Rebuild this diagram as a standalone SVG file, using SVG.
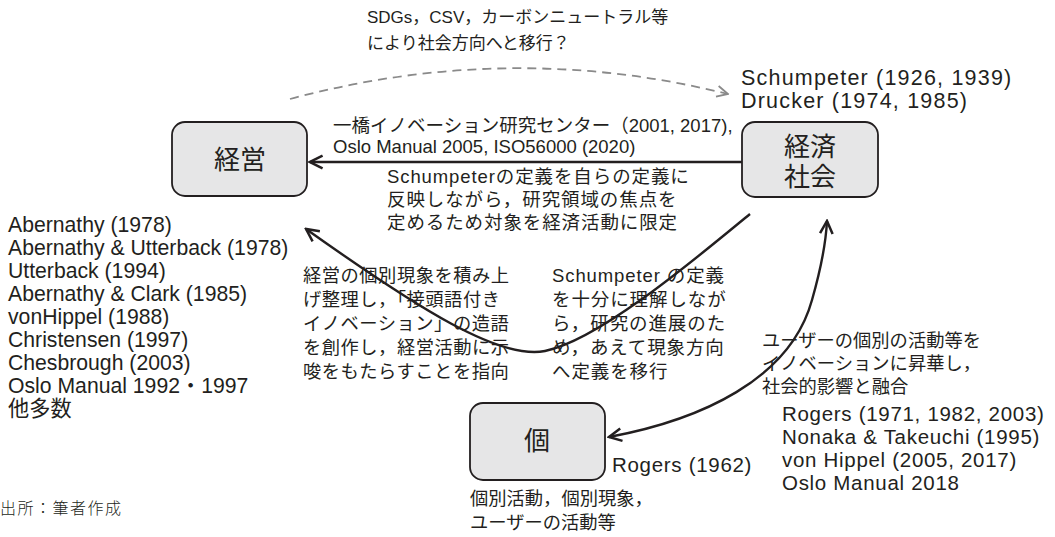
<svg xmlns="http://www.w3.org/2000/svg" width="1055" height="537" viewBox="0 0 1055 537">
<defs>
<style>
.t{font-family:"Liberation Sans","Noto Sans CJK JP",sans-serif;font-size:18.5px;fill:#231f20}
.top{font-family:"Liberation Sans","Noto Sans CJK JP",sans-serif;font-size:17px;fill:#231f20}
.l{font-family:"Liberation Sans","Noto Sans CJK JP",sans-serif;font-size:21.2px;fill:#231f20}
.r{font-family:"Liberation Sans","Noto Sans CJK JP",sans-serif;font-size:20.5px;letter-spacing:0.7px;fill:#231f20}
.s{font-family:"Liberation Sans","Noto Sans CJK JP",sans-serif;font-size:21.5px;letter-spacing:1.2px;fill:#231f20}
.j{font-family:"Noto Sans CJK JP","Liberation Sans",sans-serif;font-size:18.3px;letter-spacing:0.5px;fill:#231f20}
.jw{font-family:"Liberation Sans","Noto Sans CJK JP",sans-serif;font-size:18.5px;letter-spacing:0.9px;fill:#231f20}
.bx{fill:#e6e6e7;stroke:#231f20;stroke-width:1.8}
.bt{font-family:"Noto Sans CJK JP",sans-serif;font-size:26px;fill:#231f20;text-anchor:middle}
.c{fill:none;stroke:#231f20;stroke-width:2.4}
.d{fill:none;stroke:#8a8a8a;stroke-width:1.8;stroke-dasharray:9 6}
</style>
<marker id="ah" viewBox="0 0 14 14" refX="12.5" refY="7" markerUnits="userSpaceOnUse" markerWidth="16" markerHeight="16" orient="auto-start-reverse">
<path d="M1.5,1.5 L12.5,7 L1.5,12.5" fill="none" stroke="#231f20" stroke-width="2.2"/>
</marker>
<marker id="ahg" viewBox="0 0 14 14" refX="12.5" refY="7" markerUnits="userSpaceOnUse" markerWidth="14" markerHeight="14" orient="auto">
<path d="M1.5,1.5 L12.5,7 L1.5,12.5" fill="none" stroke="#8a8a8a" stroke-width="1.8"/>
</marker>
</defs>
<rect width="1055" height="537" fill="#ffffff"/>

<g id="connectors">
<path class="d" d="M290,99 Q510,40 728,94" marker-end="url(#ahg)"/>
<path class="c" d="M742,162 L310,162" marker-end="url(#ah)"/>
<path class="c" d="M750,214 C700,255 600,340 545,351 C500,360 420,310 306,229" marker-end="url(#ah)"/>
<path class="c" d="M609,437 C700,420 790,380 812,300 C822,265 826,240 827,221" marker-start="url(#ah)" marker-end="url(#ah)"/>
</g>

<g id="node-keiei">
<rect class="bx" x="172" y="122" width="135" height="74" rx="13"/>
<text class="bt" x="240" y="169">経営</text>
</g>
<g id="node-keizai">
<rect class="bx" x="742" y="122" width="136" height="75" rx="13"/>
<text class="bt" x="810" y="156">経済</text>
<text class="bt" x="810" y="186">社会</text>
</g>
<g id="node-ko">
<rect class="bx" x="470" y="403" width="135" height="77" rx="13"/>
<text class="bt" x="537" y="450">個</text>
</g>

<g id="labels">
<text class="top" x="367" y="23">SDGs，CSV，カーボンニュートラル等</text>
<text class="top" x="367" y="49">により社会方向へと移行？</text>
<text class="s" x="741" y="85">Schumpeter (1926, 1939)</text>
<text class="s" x="741" y="108">Drucker (1974, 1985)</text>
<text class="t" x="333" y="132">一橋イノベーション研究センター（2001, 2017),</text>
<text class="t" x="333" y="153">Oslo Manual 2005, ISO56000 (2020)</text>
<text class="jw" x="387" y="183">Schumpeterの定義を自らの定義に</text>
<text class="jw" x="387" y="206">反映しながら，研究領域の焦点を</text>
<text class="jw" x="387" y="229">定めるため対象を経済活動に限定</text>

<text class="l" x="8" y="232">Abernathy (1978)</text>
<text class="l" x="8" y="255">Abernathy &amp; Utterback (1978)</text>
<text class="l" x="8" y="278">Utterback (1994)</text>
<text class="l" x="8" y="301">Abernathy &amp; Clark (1985)</text>
<text class="l" x="8" y="324">vonHippel (1988)</text>
<text class="l" x="8" y="347">Christensen (1997)</text>
<text class="l" x="8" y="370">Chesbrough (2003)</text>
<text class="l" x="8" y="393">Oslo Manual 1992・1997</text>
<text class="l" x="8" y="416">他多数</text>

<text class="j" x="303" y="282">経営の個別現象を積み上</text>
<text class="j" x="303" y="306">げ整理し，「接頭語付き</text>
<text class="j" x="303" y="330">イノベーション」の造語</text>
<text class="j" x="303" y="354">を創作し，経営活動に示</text>
<text class="j" x="303" y="378">唆をもたらすことを指向</text>

<text class="jw" x="552" y="282">Schumpeter の定義</text>
<text class="jw" x="552" y="306">を十分に理解しなが</text>
<text class="jw" x="552" y="330">ら，研究の進展のた</text>
<text class="jw" x="552" y="354">め，あえて現象方向</text>
<text class="jw" x="552" y="378">へ定義を移行</text>

<text class="j" x="762" y="347" style="letter-spacing:0">ユーザーの個別の活動等を</text>
<text class="j" x="762" y="370" style="letter-spacing:0">イノベーションに昇華し，</text>
<text class="j" x="762" y="393" style="letter-spacing:0">社会的影響と融合</text>

<text class="r" x="612" y="472">Rogers (1962)</text>
<text class="r" x="782" y="421">Rogers (1971, 1982, 2003)</text>
<text class="r" x="782" y="444">Nonaka &amp; Takeuchi (1995)</text>
<text class="r" x="782" y="467">von Hippel (2005, 2017)</text>
<text class="r" x="782" y="490">Oslo Manual 2018</text>

<text class="j" x="470" y="505" style="letter-spacing:0">個別活動，個別現象，</text>
<text class="j" x="470" y="529" style="letter-spacing:0">ユーザーの活動等</text>

<text x="0" y="514" style="font-family:'Noto Sans CJK JP',serif;font-size:16px;letter-spacing:1.5px;fill:#231f20;font-weight:300">出所：筆者作成</text>
</g>
</svg>
